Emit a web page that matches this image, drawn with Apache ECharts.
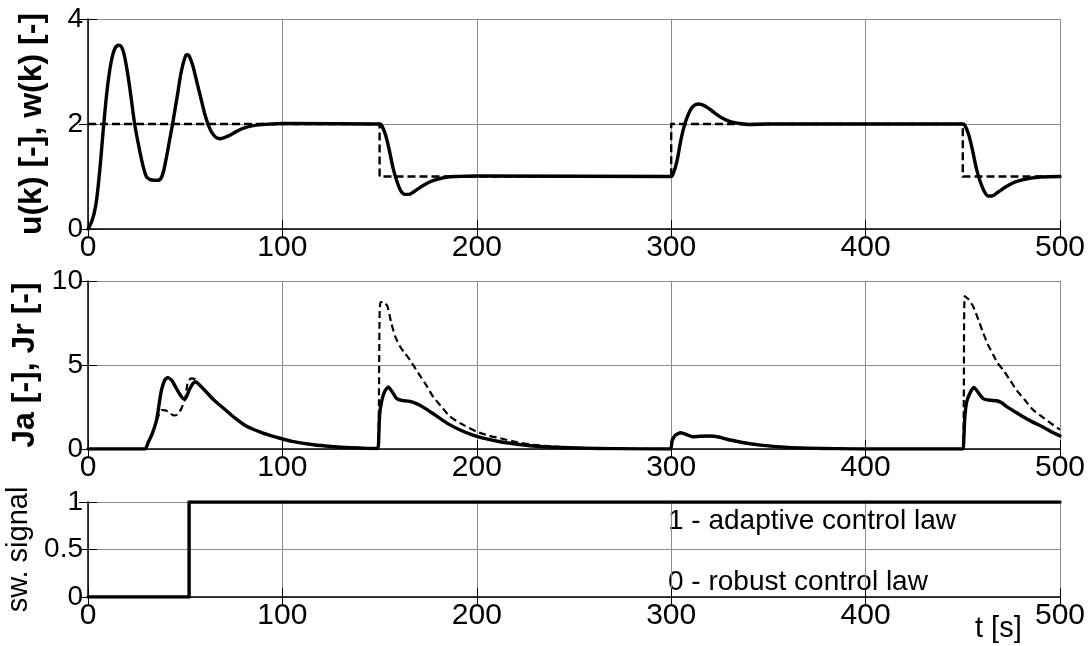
<!DOCTYPE html>
<html>
<head>
<meta charset="utf-8">
<script src="https://cdn.jsdelivr.net/npm/echarts@6/dist/echarts.min.js"></script>
<style>html,body{margin:0;padding:0;background:#fff;}#c{width:1091px;height:646px;}</style>
</head>
<body>
<div id="c"></div>
<script>
// ---------- data ----------
const xTicks = [0, 100, 200, 300, 400, 500];

// top: reference w(k) (dashed) and output u(k) (solid)
const tW = [0, 150, 150, 300, 300, 450, 450, 500];
const wVals = [2, 2, 1, 1, 2, 2, 1, 1];

const tU = [0, 2, 4, 6, 8, 10, 12, 14, 16, 18, 20, 22, 24, 26, 28, 30, 32, 34, 36, 38, 40, 42, 43.5, 46, 48, 50, 51, 52, 54, 56, 58, 60, 62, 64, 66, 68, 72, 76, 80, 85, 90, 95, 100,
  150, 151, 153, 155, 157, 159, 161, 163, 165, 168, 172, 176, 180, 185, 190, 200,
  300, 301, 303, 305, 307, 309, 311, 314, 318, 322, 326, 330, 335, 340, 350,
  450, 451, 453, 455, 457, 459, 461, 463, 465, 468, 472, 476, 480, 485, 490, 500];
const uVals = [0, 0.15, 0.45, 1.1, 1.95, 2.7, 3.2, 3.45, 3.5, 3.4, 3.05, 2.55, 2.0, 1.6, 1.25, 1.0, 0.94, 0.93, 0.93, 1.0, 1.3, 1.7, 2.0, 2.55, 3.0, 3.28, 3.32, 3.3, 3.1, 2.8, 2.5, 2.2, 1.97, 1.82, 1.74, 1.72, 1.77, 1.85, 1.92, 1.97, 1.99, 2.0, 2.01,
  2.0, 1.98, 1.8, 1.5, 1.15, 0.9, 0.72, 0.66, 0.66, 0.72, 0.82, 0.9, 0.95, 0.99, 1.0, 1.01,
  1.0, 1.05, 1.3, 1.7, 2.0, 2.2, 2.33, 2.38, 2.33, 2.22, 2.12, 2.05, 2.01, 1.99, 2.0,
  2.0, 1.98, 1.8, 1.5, 1.15, 0.9, 0.72, 0.63, 0.63, 0.7, 0.8, 0.88, 0.93, 0.97, 0.99, 1.0];

// middle: Ja (solid) and Jr (dashed)
const tJa = [0, 29.3, 31, 33, 35, 36, 37, 38, 39.5, 41, 43, 45, 47, 49, 50, 52, 54, 55.5, 57, 60, 64.5, 70, 75, 81.6, 90, 98.8, 105, 116, 125, 135, 149,
  149.5, 150, 151, 152.5, 154.5, 156.5, 158.8, 162, 165, 169, 173, 177.6, 182, 186, 192, 198, 205, 212, 220, 229, 240, 255, 270, 299.5,
  300.5, 302, 305, 308, 311, 315, 320, 325, 328.5, 334, 339, 346, 354, 362, 371, 385, 400, 450,
  450.5, 451, 452, 454, 455.8, 458, 460.5, 464, 467.4, 470, 472.6, 477, 481, 486, 491.4, 496, 500];
const jaVals = [0, 0, 0.4, 0.9, 1.6, 2.2, 3.0, 3.6, 4.1, 4.25, 4.1, 3.7, 3.3, 3.0, 3.0, 3.5, 3.9, 4.0, 3.85, 3.5, 2.95, 2.4, 1.9, 1.35, 0.95, 0.64, 0.45, 0.25, 0.15, 0.08, 0.03,
  0.5, 2.0, 2.8, 3.4, 3.7, 3.4, 3.0, 2.88, 2.85, 2.7, 2.45, 2.1, 1.75, 1.45, 1.1, 0.83, 0.6, 0.43, 0.3, 0.18, 0.1, 0.05, 0.02, 0,
  0.5, 0.8, 0.97, 0.85, 0.73, 0.76, 0.77, 0.7, 0.58, 0.45, 0.34, 0.23, 0.14, 0.08, 0.05, 0.02, 0, 0,
  0.5, 1.8, 2.8, 3.4, 3.67, 3.35, 3.0, 2.9, 2.87, 2.75, 2.52, 2.2, 1.92, 1.6, 1.3, 1.0, 0.78];

const tJr = [0, 29.3, 31, 33, 35, 36, 37, 38, 40, 42, 44, 46, 48, 50, 51, 52, 53.3, 55, 56, 57, 60, 64.5, 70, 75, 81.6, 90, 98.8, 105, 116, 125, 135, 149,
  149.5, 150, 150.5, 152, 154, 156, 158, 160.5, 163, 165.6, 170, 174, 177.6, 182, 186, 192, 200, 206, 212, 220, 229, 240, 250, 265, 280, 299.5,
  300.5, 302, 305, 308, 311, 315, 320, 325, 328.5, 334, 339, 346, 354, 362, 371, 385, 400, 450,
  450.5, 451, 453, 455.4, 458, 460.5, 463, 465.7, 468, 470.8, 474, 477.7, 482, 486.2, 491, 495, 500];
const jrVals = [0, 0, 0.4, 0.9, 1.6, 1.9, 2.2, 2.32, 2.3, 2.15, 2.0, 2.05, 2.4, 3.0, 3.8, 4.1, 4.2, 4.15, 4.0, 3.85, 3.5, 2.95, 2.4, 1.9, 1.35, 0.95, 0.64, 0.45, 0.25, 0.15, 0.08, 0.03,
  1.0, 8.0, 8.75, 8.75, 8.5, 7.5, 6.7, 6.1, 5.7, 5.3, 4.5, 3.8, 3.1, 2.5, 1.95, 1.5, 1.03, 0.8, 0.64, 0.42, 0.25, 0.14, 0.08, 0.04, 0.01, 0,
  0.5, 0.8, 0.97, 0.85, 0.73, 0.76, 0.77, 0.7, 0.58, 0.45, 0.34, 0.23, 0.14, 0.08, 0.05, 0.02, 0, 0,
  3.0, 9.1, 8.9, 8.47, 7.7, 6.9, 6.2, 5.6, 5.1, 4.7, 4.15, 3.5, 2.9, 2.32, 1.9, 1.55, 1.15];

// bottom: switching signal
const tSw = [0, 52, 52, 500];
const swVals = [0, 0, 1, 1];

const yTop = {min: 0, max: 4, interval: 2};
const yMid = {min: 0, max: 10, interval: 5};
const yBot = {min: 0, max: 1, interval: 0.5};

const labelAdaptive = '1 - adaptive control law';
const labelRobust = '0 - robust control law';
const xName = 't [s]';
const yNames = ['u(k) [-], w(k) [-]', 'Ja [-], Jr [-]', 'sw. signal'];

// ---------- chart ----------
const pairs = (t, v) => t.map((x, i) => [x, v[i]]);
const FONT = '"Liberation Sans", Arial, sans-serif';
const grids = [
  {left: 88, right: 31, top: 19, height: 210},
  {left: 88, right: 31, top: 281, height: 168},
  {left: 88, right: 31, top: 502, height: 95}
].map(g => Object.assign({containLabel: false, outerBoundsMode: 'none'}, g));

const gridLine = {show: true, lineStyle: {color: '#8c8c8c', width: 1}};
const tickStyle = {show: true, inside: true, length: 9, lineStyle: {color: '#000', width: 1}};

const xAxes = [], yAxes = [];
const yRanges = [yTop, yMid, yBot];
const nameGaps = [40, 44, 53];
const nameStyles = [
  {fontSize: 32, fontWeight: 'bold'},
  {fontSize: 32, fontWeight: 'bold'},
  {fontSize: 29, fontWeight: 'normal'}
];
for (let g = 0; g < 3; g++) {
  xAxes.push({
    type: 'value', gridIndex: g, min: 0, max: 500, interval: 100, position: 'bottom',
    axisLine: {show: true, onZero: false, lineStyle: {color: '#000', width: 1.5}},
    axisTick: tickStyle,
    axisLabel: {show: true, color: '#000', fontSize: 30, fontFamily: FONT, margin: 4, showMinLabel: true, showMaxLabel: true},
    splitLine: gridLine
  });
  xAxes.push({
    type: 'value', gridIndex: g, min: 0, max: 500, interval: 100, position: 'top',
    axisLine: {show: false}, axisTick: tickStyle, axisLabel: {show: false}, splitLine: {show: false}
  });
  const r = yRanges[g];
  yAxes.push({
    type: 'value', gridIndex: g, min: r.min, max: r.max, interval: r.interval, position: 'left',
    name: yNames[g], nameLocation: 'middle', nameRotate: 90, nameGap: nameGaps[g],
    nameTextStyle: Object.assign({color: '#000', fontFamily: FONT}, nameStyles[g]),
    axisLine: {show: true, onZero: false, lineStyle: {color: '#000', width: 1.5}},
    axisTick: tickStyle,
    axisLabel: {show: true, color: '#000', fontSize: 28, fontFamily: FONT, margin: 5, showMinLabel: true, showMaxLabel: true},
    splitLine: gridLine
  });
  yAxes.push({
    type: 'value', gridIndex: g, min: r.min, max: r.max, interval: r.interval, position: 'right',
    axisLine: {show: false}, axisTick: tickStyle, axisLabel: {show: false}, splitLine: {show: false}
  });
}

const dashedTop = {color: '#000', width: 2.4, type: [8, 4], cap: 'butt', join: 'miter'};
const dashedMid = {color: '#000', width: 2.2, type: [7, 4], cap: 'butt', join: 'miter'};
const solid = {color: '#000', width: 3.4, type: 'solid', cap: 'round', join: 'round'};
const mk = (name, data, xi, yi, style, smooth) => ({
  name, type: 'line', data, xAxisIndex: xi, yAxisIndex: yi, showSymbol: false, symbol: 'none',
  smooth: smooth || false, lineStyle: style, animation: false, silent: true, z: style === solid ? 3 : 2
});

const option = {
  animation: false,
  backgroundColor: '#fff',
  textStyle: {fontFamily: FONT},
  grid: grids,
  xAxis: xAxes,
  yAxis: yAxes,
  series: [
    mk('w(k)', pairs(tW, wVals), 0, 0, dashedTop),
    mk('u(k)', pairs(tU, uVals), 0, 0, solid, 0.35),
    mk('Jr', pairs(tJr, jrVals), 2, 2, dashedMid, 0.2),
    mk('Ja', pairs(tJa, jaVals), 2, 2, solid, 0.2),
    mk('sw. signal', pairs(tSw, swVals), 4, 4, solid)
  ],
  graphic: [
    {type: 'text', left: 668, top: 507, style: {text: labelAdaptive, fill: '#000', fontSize: 28, fontFamily: FONT}},
    {type: 'text', left: 668, top: 568, style: {text: labelRobust, fill: '#000', fontSize: 28, fontFamily: FONT}},
    {type: 'text', left: 975, top: 614, style: {text: xName, fill: '#000', fontSize: 29, fontFamily: FONT}}
  ]
};
const chart = echarts.init(document.getElementById('c'), null, {renderer: 'canvas'});
chart.setOption(option);
</script>
</body>
</html>
